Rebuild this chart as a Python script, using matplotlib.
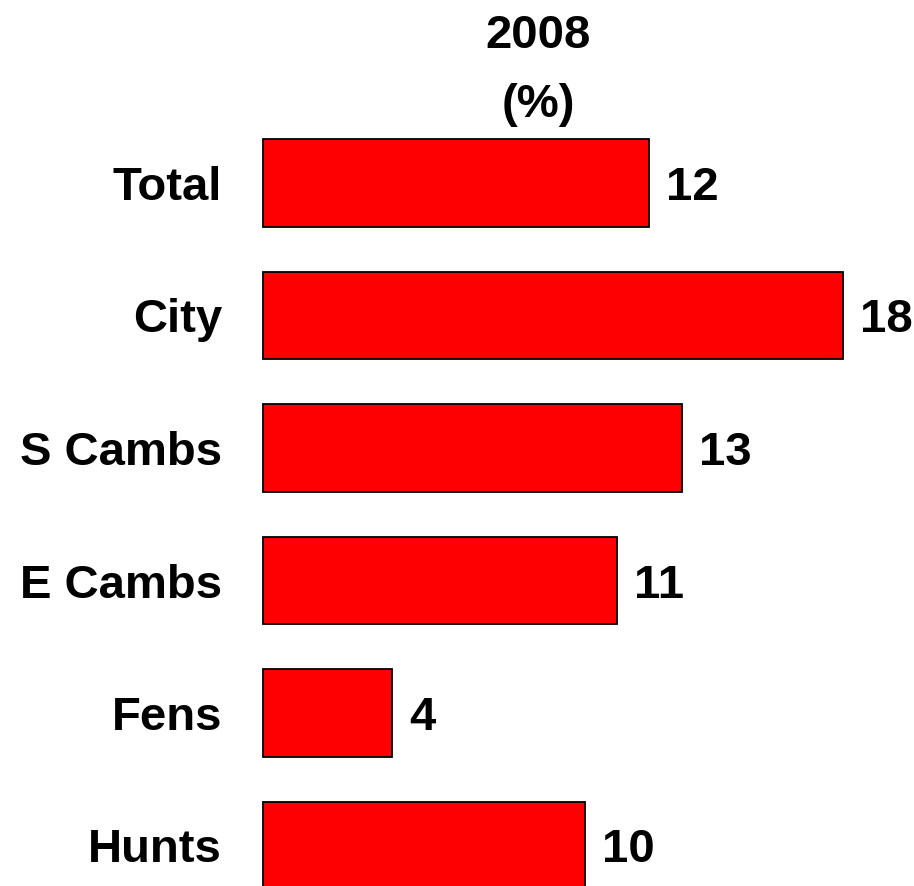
import matplotlib
matplotlib.use("Agg")
import matplotlib.pyplot as plt

categories = ["Total", "City", "S Cambs", "E Cambs", "Fens", "Hunts"]
values = [12, 18, 13, 11, 4, 10]
title_lines = ["2008", "(%)"]

W, H = 914, 886
fig = plt.figure(figsize=(W / 100, H / 100), dpi=100)
plt.rcParams['font.family'] = ['Liberation Sans', 'DejaVu Sans']

left_px = 263
px_per_unit = 32.2
ax = fig.add_axes([left_px / W, 0, 1 - left_px / W, 1])
ax.set_xlim(0, (W - left_px) / px_per_unit)
step = 132.5
first_center = 183
ax.set_ylim((H - first_center) / step, -first_center / step)
ax.axis('off')

ypos = list(range(len(categories)))
ax.barh(ypos, values, height=0.66, color='#ff0000', edgecolor='black', linewidth=1.3, clip_on=False)

fs = 34
for y, v, c in zip(ypos, values, categories):
    ax.annotate(str(v), xy=(v, y), xytext=(17, 0), textcoords='offset pixels',
                ha='left', va='center_baseline', fontsize=fs, fontweight='bold')
    ax.annotate(c, xy=(0, y), xytext=(-41, 0), textcoords='offset pixels',
                ha='right', va='center_baseline', fontsize=fs, fontweight='bold')

fig.text(538 / W, 1 - 31 / H, title_lines[0], ha='center', va='center_baseline', fontsize=fs, fontweight='bold')
fig.text(538 / W, 1 - 100 / H, title_lines[1], ha='center', va='center_baseline', fontsize=fs, fontweight='bold')

fig.savefig("out.png", dpi=100, facecolor='white')
